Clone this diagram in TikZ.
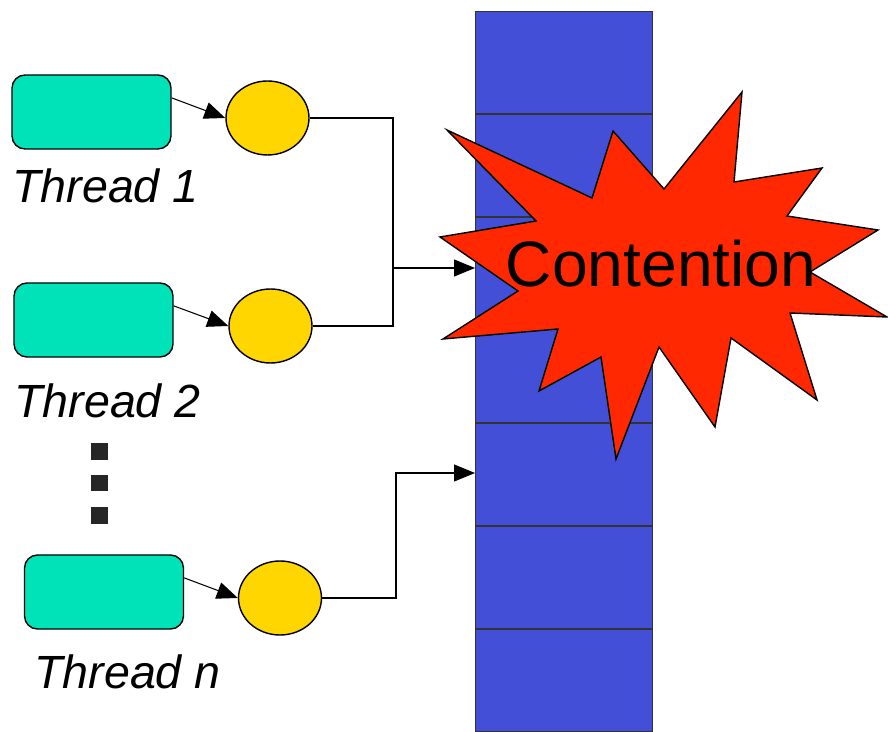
\documentclass[tikz,border=0pt]{standalone}
\usepackage{fontspec}
\setmainfont{Liberation Sans}
\usetikzlibrary{arrows.meta,calc,shapes.geometric}
\definecolor{threadteal}{RGB}{0,226,184}
\definecolor{lockyellow}{RGB}{255,214,0}
\definecolor{tableblue}{RGB}{67,79,214}
\definecolor{burstred}{RGB}{255,40,0}
\tikzstyle{threadbox}=[draw=black,fill=threadteal,line width=0.8pt,rounded corners=0.26cm,minimum width=3.18cm,minimum height=1.48cm]
\tikzstyle{lockdot}=[draw=black,fill=lockyellow,line width=0.8pt,ellipse,minimum width=1.66cm,minimum height=1.48cm,inner sep=0pt]
\tikzstyle{threadlabel}=[anchor=base west,inner sep=0pt,font=\fontsize{26.5}{32}\selectfont\itshape]
\tikzstyle{conn}=[line width=0.6pt]
\tikzstyle{arr}=[-{Triangle[length=4.2mm,width=3.4mm]}]
\tikzstyle{slot}=[draw=black!80,line width=0.8pt]
\tikzstyle{burst}=[draw=black,fill=burstred,line width=0.8pt,line join=miter]
\newcommand{\threadrow}[5]{% name, box centre, ellipse centre, label base, label
	\node[threadbox] (t#1) at (#2) {};
	\node[lockdot] (e#1) at (#3) {};
	\draw[conn,arr] (t#1.10) -- (e#1.west);
	\node[threadlabel] (l#1) at (#4) {#5};
}

\begin{document}
\begin{tikzpicture}[x=0.02cm,y=-0.02cm]
	\useasboundingbox (0,0) rectangle (888,732);
	% the shared table
	\node[draw=black!80,fill=tableblue,line width=0.8pt,anchor=north west,minimum width=3.54cm,minimum height=14.4cm,inner sep=0pt] (col) at (475,11) {};
	\foreach \y in {114,217,320,423,526,629}
		\draw[slot] (475,\y) -- (652,\y);
	% threads and their locks
	\threadrow{1}{91.5,112}{267.5,118}{12,203}{Thread 1}
	\threadrow{2}{93.5,320}{270.5,326}{14,418}{Thread 2}
	\threadrow{n}{104,592}{280,598}{34,688}{Thread n}
	\foreach \i/\y in {1/451.5,2/483,3/515.5}
		\node[fill=black!85,minimum size=0.34cm,inner sep=0pt] (d\i) at (99.5,\y) {};
	% wires into the table
	\coordinate (m) at (393,268);
	\coordinate (mn) at (396,473);
	\draw[conn] (e1.east) -| (m);
	\draw[conn] (e2.east) -| (m);
	\draw[conn,arr] (m) -- (m -| col.west);
	\draw[conn,arr] (en.east) -| (mn) -- (mn -| col.west);
	% the burst
	\filldraw[burst] (447,130) -- (592,198) -- (613,131) -- (664,189) -- (742,92) -- (734,182) -- (822,168) -- (787,216) -- (878,230) -- (810,272) -- (887,317) -- (790,313) -- (817,400) -- (731,338) -- (715,427) -- (659,347) -- (616,459) -- (601,357) -- (539,391) -- (558,329) -- (443,339) -- (518,291) -- (440,237) -- (536,221) -- cycle;
	\node[anchor=base,inner sep=0pt,font=\fontsize{36.5}{44}\selectfont] (txt) at (661,287) {Contention};
\end{tikzpicture}
\end{document}
